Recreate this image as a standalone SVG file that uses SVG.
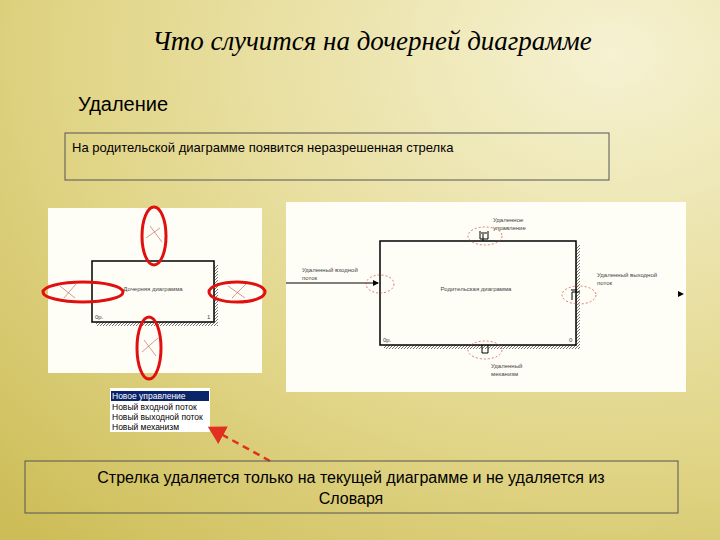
<svg xmlns="http://www.w3.org/2000/svg" width="720" height="540" viewBox="0 0 720 540">
<defs>
<radialGradient id="bg" cx="0.85" cy="0.1" r="1.2">
<stop offset="0" stop-color="#f6f2d2"/><stop offset="0.6" stop-color="#e2d68a"/><stop offset="1" stop-color="#cdbd58"/>
</radialGradient>
<pattern id="hatch" width="3" height="3" patternUnits="userSpaceOnUse"><path d="M0,3 L3,0" stroke="#555" stroke-width="0.8"/></pattern>
<marker id="ah" markerWidth="8" markerHeight="8" refX="6" refY="4" orient="auto"><path d="M0,0 L7,4 L0,8 z" fill="#e03020"/></marker>
<marker id="bk" markerWidth="6" markerHeight="6" refX="5" refY="3" orient="auto"><path d="M0,0 L6,3 L0,6 z" fill="#000"/></marker>
</defs>
<style>
.s{font-family:"Liberation Sans",Arial,sans-serif}
.t{font-size:6px;fill:#444}
.red{fill:none;stroke:#e01010;stroke-width:3}
.rd{fill:none;stroke:#d04040;stroke-width:0.7;stroke-dasharray:2,2}
</style>
<rect width="720" height="540" fill="url(#bg)"/>
<text x="372" y="50" text-anchor="middle" font-family="Liberation Serif,serif" font-style="italic" font-size="27">Что случится на дочерней диаграмме</text>
<text x="78" y="111" class="s" font-size="20">Удаление</text>
<g id="box1"><rect x="65" y="133" width="544" height="47" fill="none" stroke="#555"/>
<text x="72" y="152" class="s" font-size="13">На родительской диаграмме появится неразрешенная стрелка</text></g>
<g id="child">
<rect x="48" y="208" width="214" height="165" fill="#fffef6"/>
<rect x="96" y="265" width="122" height="61" fill="url(#hatch)"/>
<rect x="92" y="261" width="122" height="61" fill="#fffef6" stroke="#000" stroke-width="1.5"/>
<text x="153" y="291" text-anchor="middle" class="s t" font-size="8">Дочерняя диаграмма</text>
<text x="95" y="319" class="s t">0р.</text><text x="207" y="319" class="s t">1</text>
<g stroke="#c05050" stroke-width="0.6"><path d="M150,226 L162,242 M146,238 L160,228 M60,286 L75,298 M64,298 L76,284 M228,286 L245,298 M232,298 L246,284 M144,340 L156,356 M142,352 L158,338"/></g>
<ellipse cx="154" cy="236" rx="12" ry="29" class="red"/>
<ellipse cx="83" cy="292" rx="40" ry="10" class="red"/>
<ellipse cx="237" cy="292" rx="28" ry="10" class="red"/>
<ellipse cx="149" cy="348" rx="12" ry="31" class="red"/>
</g>
<g id="list">
<rect x="110" y="388" width="100" height="44" fill="#fff"/>
<rect x="111" y="391" width="98" height="10" fill="#0a246a"/>
<text x="112" y="399" class="s" font-size="8.5" fill="#fff">Новое управление</text>
<text x="112" y="410" class="s" font-size="8.5">Новый входной поток</text>
<text x="112" y="420" class="s" font-size="8.5">Новый выходной поток</text>
<text x="112" y="430" class="s" font-size="8.5">Новый механизм</text>
</g>
<g id="parent">
<rect x="286" y="202" width="400" height="190" fill="#fffef6"/>
<rect x="384" y="245" width="196" height="104" fill="url(#hatch)"/>
<rect x="380" y="241" width="196" height="104" fill="#fffef6" stroke="#000" stroke-width="1.5"/>
<text x="476" y="291" text-anchor="middle" class="s t">Родительская диаграмма</text>
<text x="383" y="342" class="s t">0р.</text><text x="569" y="342" class="s t">0</text>
<path d="M286,283 L378,283" stroke="#000" marker-end="url(#bk)"/>
<path d="M483,234 L483,241 M481,233 h6 M480,231 v8 h8 v-8 M482,345 v8 h6 v-8 M571,290 h6 M580,292 h-8 v8" stroke="#000" fill="none"/>
<path d="M684,294 l-6,-3 v6 z" fill="#000"/>
<ellipse cx="380" cy="284" rx="14" ry="9" class="rd"/>
<ellipse cx="485" cy="236" rx="17" ry="9" class="rd"/>
<ellipse cx="485" cy="350" rx="17" ry="9" class="rd"/>
<ellipse cx="579" cy="295" rx="17" ry="9" class="rd"/>
<text x="493" y="222" class="s t">Удаленное</text><text x="493" y="230" class="s t">управление</text>
<text x="302" y="272" class="s t">Удаленный входной</text><text x="302" y="280" class="s t">поток</text>
<text x="597" y="277" class="s t">Удаленный выходной</text><text x="597" y="285" class="s t">поток</text>
<text x="491" y="368" class="s t">Удаленный</text><text x="491" y="376" class="s t">механизм</text>
</g>
<g id="conn"><path d="M270,461 L210,428" stroke="#e03020" stroke-width="2.5" stroke-dasharray="7,5" fill="none" marker-end="url(#ah)"/></g>
<g id="box2"><rect x="25" y="461" width="653" height="52" fill="none" stroke="#555"/>
<text x="351" y="483" text-anchor="middle" class="s" font-size="16">Стрелка удаляется только на текущей диаграмме и не удаляется из</text>
<text x="351" y="504" text-anchor="middle" class="s" font-size="16">Словаря</text></g>
</svg>
